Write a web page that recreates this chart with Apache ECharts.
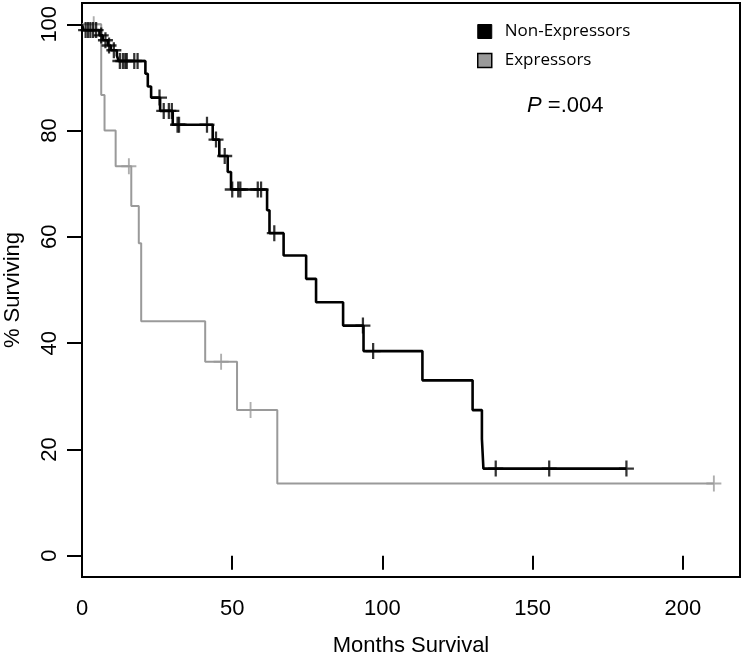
<!DOCTYPE html>
<html>
<head>
<meta charset="utf-8">
<script src="https://cdn.jsdelivr.net/npm/echarts@6/dist/echarts.min.js"></script>
<style>
html,body{margin:0;padding:0;background:#fff;}
#chart{width:744px;height:662px;}
</style>
</head>
<body>
<div id="chart"></div>
<script>
// Non-Expressors (black) Kaplan-Meier steps: time (months), % surviving after event
const blackTimes = [0, 0.5, 5.8, 6.9, 8.6, 9.6, 11.6, 12.2, 21.1, 21.9, 23.0, 26.0, 30.2, 43.5, 45.7, 48.5, 49.6, 61.6, 62.4, 67.1, 74.6, 77.9, 86.9, 93.7, 113.3, 130.0, 133.1, 133.6, 181.2];
const blackSurv  = [100, 98.9, 97.9, 97.0, 96.0, 95.1, 94.1, 93.1, 90.7, 88.3, 86.2, 83.7, 81.1, 78.3, 75.2, 72.2, 68.9, 65.0, 60.7, 56.5, 52.1, 47.7, 43.3, 38.5, 33.0, 27.4, 22.0, 16.4, 16.4];
const blackCensor = [1.2, 2.0, 2.8, 3.7, 4.7, 6.4, 7.8, 9.0, 10.6, 12.6, 13.6, 14.4, 14.9, 17.4, 18.5, 25.8, 27.2, 28.9, 29.9, 31.8, 32.3, 41.6, 44.6, 47.5, 50.0, 52.0, 52.7, 58.5, 59.6, 64.0, 93.5, 96.9, 137.7, 155.5, 181.2];

// Expressors (grey)
const greyTimes = [0, 6.4, 7.5, 11.2, 16.4, 18.9, 19.7, 41.0, 51.6, 65.0, 210.3];
const greySurv  = [100, 86.7, 80.0, 73.3, 65.8, 58.8, 44.1, 36.5, 27.4, 13.6, 13.6];
const greyCensor = [3.9, 15.6, 46.3, 56.1, 210.3];

const xTicks = [0, 50, 100, 150, 200];
const yTicks = [0, 20, 40, 60, 80, 100];
const seriesNames = ['Non-Expressors', 'Expressors'];

function survAt(times, surv, t) {
  let v = surv[0];
  for (let i = 0; i < times.length; i++) { if (times[i] <= t) v = surv[i]; }
  return v;
}
const zip = (a, b) => a.map((v, i) => [v, b[i]]);
const censorPts = (c, times, surv) => c.map(t => [t, survAt(times, surv, t)]);

const plusBlack = 'path://M0,6.8L16,6.8L16,9.2L0,9.2Z M6.8,0L9.2,0L9.2,16L6.8,16Z';
const plusGrey = 'path://M0,7L16,7L16,9L0,9Z M7,0L9,0L9,16L7,16Z';
const GREY = '#9a9a9a';
const FONT = 'Liberation Sans';

const chart = echarts.init(document.getElementById('chart'));
chart.setOption({
  animation: false,
  backgroundColor: '#fff',
  grid: { left: 82, right: 4, top: 3, bottom: 85, show: true, borderColor: '#000', borderWidth: 2,
          backgroundColor: 'transparent', containLabel: false, outerBoundsMode: 'none' },
  xAxis: {
    type: 'value', min: 0, max: 219,
    name: 'Months Survival', nameLocation: 'middle', nameGap: 58,
    nameTextStyle: { fontFamily: FONT, fontSize: 22, color: '#000' },
    axisLine: { show: false },
    axisTick: { show: true, inside: false, length: 14, lineStyle: { color: '#000', width: 2 }, customValues: xTicks },
    axisLabel: { fontFamily: FONT, fontSize: 22, color: '#000', margin: 21, customValues: xTicks },
    splitLine: { show: false }
  },
  yAxis: {
    type: 'value', min: -4, max: 104,
    name: '% Surviving', nameLocation: 'middle', nameGap: 58, nameRotate: 90,
    nameTextStyle: { fontFamily: FONT, fontSize: 22, color: '#000' },
    axisLine: { show: false },
    axisTick: { show: true, inside: false, length: 15, lineStyle: { color: '#000', width: 2 }, customValues: yTicks },
    axisLabel: { fontFamily: FONT, fontSize: 22, color: '#000', margin: 21, rotate: 90, customValues: yTicks },
    splitLine: { show: false }
  },
  legend: {
    orient: 'vertical', left: 477, top: 23, padding: 0,
    itemWidth: 14, itemHeight: 14, itemGap: 12,
    textStyle: { fontFamily: 'Open Sans', fontSize: 17, color: '#000', lineHeight: 14, padding: [0, 0, 0, 8] },
    data: [
      { name: seriesNames[0], icon: 'rect', itemStyle: { color: '#000', borderColor: '#000', borderWidth: 1 } },
      { name: seriesNames[1], icon: 'rect', itemStyle: { color: GREY, borderColor: '#000', borderWidth: 1.5 } }
    ]
  },
  title: {
    text: '{i|P} =.004', left: 527, top: 95, padding: 0,
    textStyle: { fontFamily: FONT, fontSize: 22, color: '#000', fontWeight: 'normal',
      rich: { i: { fontFamily: FONT, fontSize: 22, fontStyle: 'italic', color: '#000' } } }
  },
  series: [
    { name: seriesNames[1], type: 'line', step: 'end', data: zip(greyTimes, greySurv), showSymbol: false, symbol: 'none',
      lineStyle: { color: GREY, width: 2 }, itemStyle: { color: GREY }, z: 2 },
    { type: 'scatter', data: censorPts(greyCensor, greyTimes, greySurv), symbol: plusGrey, symbolSize: [15, 16],
      itemStyle: { color: GREY }, z: 3, silent: true },
    { name: seriesNames[0], type: 'line', step: 'end', data: zip(blackTimes, blackSurv), showSymbol: false, symbol: 'none',
      lineStyle: { color: '#000', width: 2.6 }, itemStyle: { color: '#000' }, z: 4 },
    { type: 'scatter', data: censorPts(blackCensor, blackTimes, blackSurv), symbol: plusBlack, symbolSize: [15, 16],
      itemStyle: { color: '#000' }, z: 5, silent: true }
  ]
});
</script>
</body>
</html>
